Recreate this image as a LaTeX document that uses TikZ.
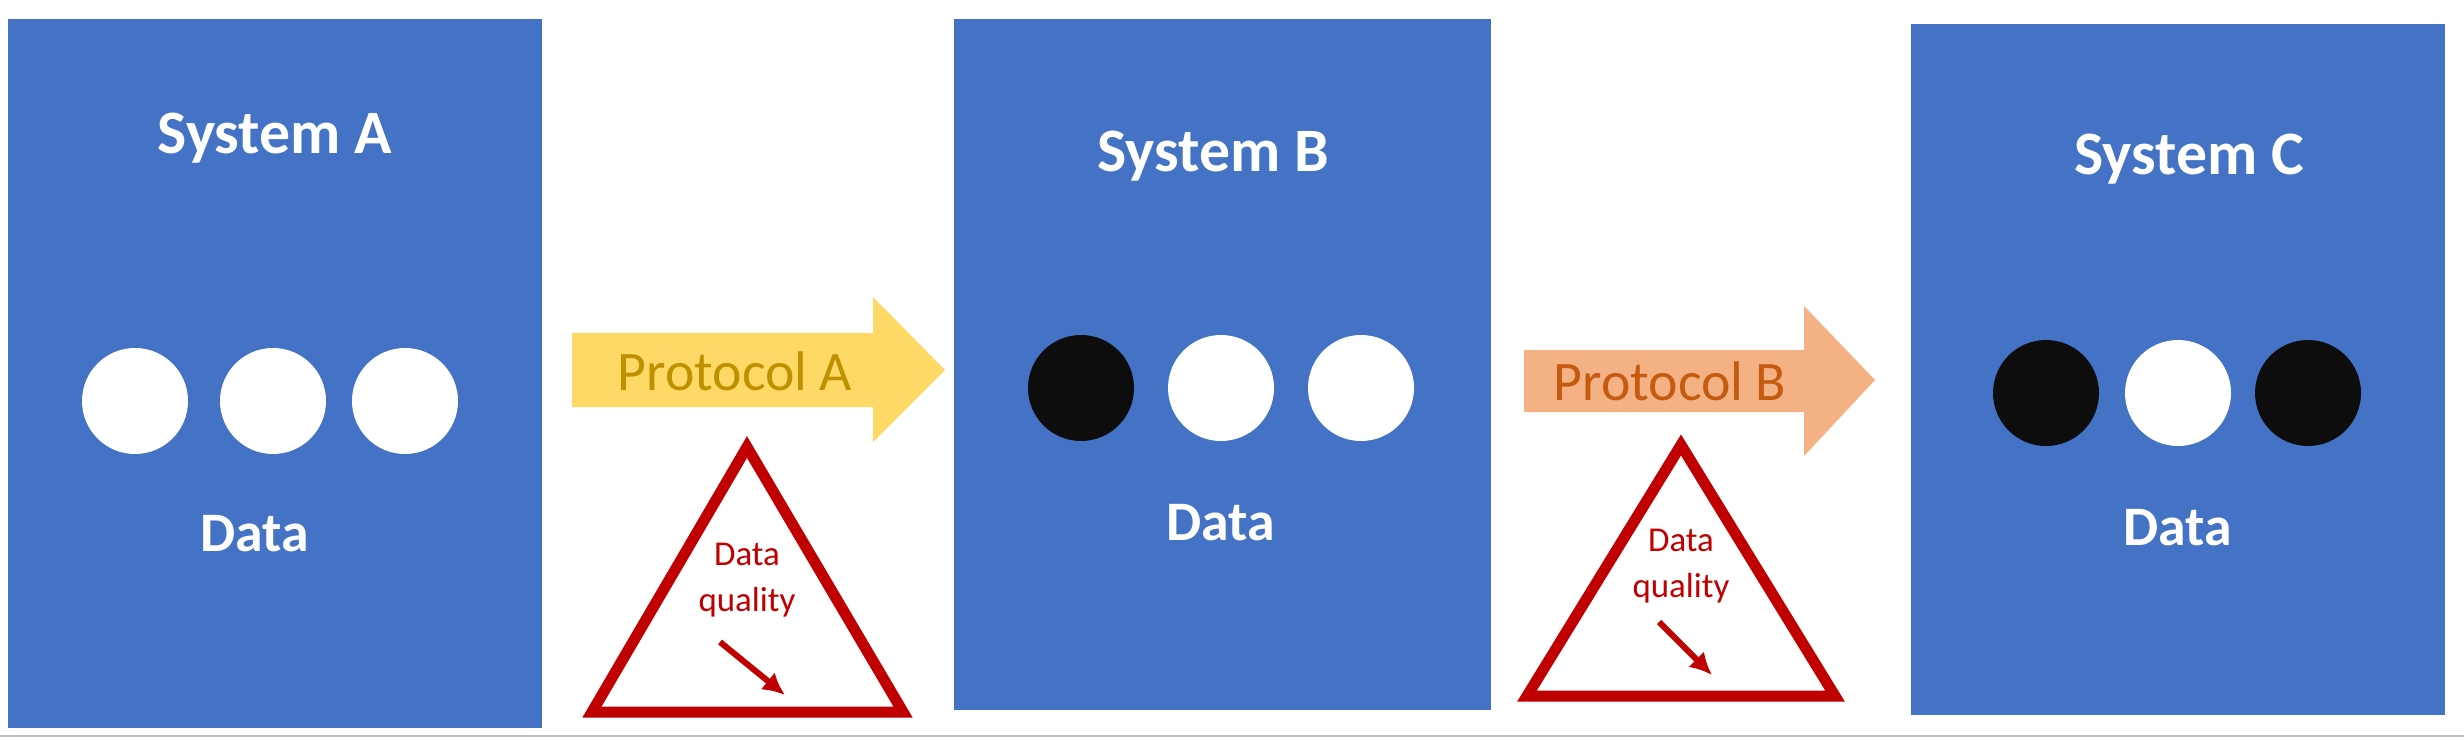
\documentclass[tikz,border=0pt]{standalone}
\usepackage{fontspec}
\setmainfont{Carlito}
\usetikzlibrary{arrows.meta}
\begin{document}
\begin{tikzpicture}[x=1bp,y=-1bp,
  sys/.style={fill=blueA,draw=none},
  dot/.style={circle,minimum size=106bp,inner sep=0pt},
  wt/.style={text=white,font=\fontsize{62}{66}\selectfont\bfseries},
  dt/.style={text=white,font=\fontsize{56}{60}\selectfont\bfseries},
  pt/.style={font=\fontsize{56}{60}\selectfont},
  tri/.style={draw=redA,line width=11bp,line join=miter,fill=white},
  dq/.style={text=redA,font=\fontsize{35}{46}\selectfont,align=center}]
\definecolor{blueA}{HTML}{4472C4}
\definecolor{redA}{HTML}{C00000}
\definecolor{yelA}{HTML}{FFD966}
\definecolor{yelT}{HTML}{BF9000}
\definecolor{orA}{HTML}{F4B183}
\definecolor{orT}{HTML}{C55A11}
\useasboundingbox (0,0) rectangle (2464,741);
\fill[white] (0,0) rectangle (2464,741);
\draw[gray!50,line width=2bp] (0,736) -- (2464,736);
% systems
\fill[sys] (8,19) rectangle (542,728);
\fill[sys] (954,19) rectangle (1491,710);
\fill[sys] (1911,24) rectangle (2445,715);
\node[wt] (sa) at (275,138) {System A};
\node[wt] (sb) at (1213,156) {System B};
\node[wt] (sc) at (2189,159) {System C};
\node[dt] (da) at (255,534) {Data};
\node[dt] (db) at (1221,523) {Data};
\node[dt] (dc) at (2178,528) {Data};
\node[dot,fill=white] (a1) at (135,401) {};
\node[dot,fill=white] (a2) at (273,401) {};
\node[dot,fill=white] (a3) at (405,401) {};
\node[dot,fill=black!95] (b1) at (1081,388) {};
\node[dot,fill=white] (b2) at (1221,388) {};
\node[dot,fill=white] (b3) at (1361,388) {};
\node[dot,fill=black!95] (c1) at (2046,393) {};
\node[dot,fill=white] (c2) at (2178,393) {};
\node[dot,fill=black!95] (c3) at (2308,393) {};
% arrows
\fill[yelA] (572,333) -- (873,333) -- (873,297) -- (945,370) -- (873,442) -- (873,407) -- (572,407) -- cycle;
\node[pt,text=yelT] (pa) at (735,371) {Protocol A};
\fill[orA] (1524,350) -- (1804,350) -- (1804,306) -- (1875,380) -- (1804,456) -- (1804,412) -- (1524,412) -- cycle;
\node[pt,text=orT] (pb) at (1670,381) {Protocol B};
% triangles
\draw[tri] (747,447) -- (903,712) -- (592,712) -- cycle;
\node[dq] (qa) at (747,580) {Data\\quality};
\draw[redA,line width=6bp,-{Latex[length=22bp,width=22bp]}] (720,642) -- (785,695);
\draw[tri] (1681,445) -- (1835,696) -- (1527,696) -- cycle;
\node[dq] (qb) at (1681,566) {Data\\quality};
\draw[redA,line width=6bp,-{Latex[length=22bp,width=22bp]}] (1659,622) -- (1712,675);
\end{tikzpicture}
\end{document}
